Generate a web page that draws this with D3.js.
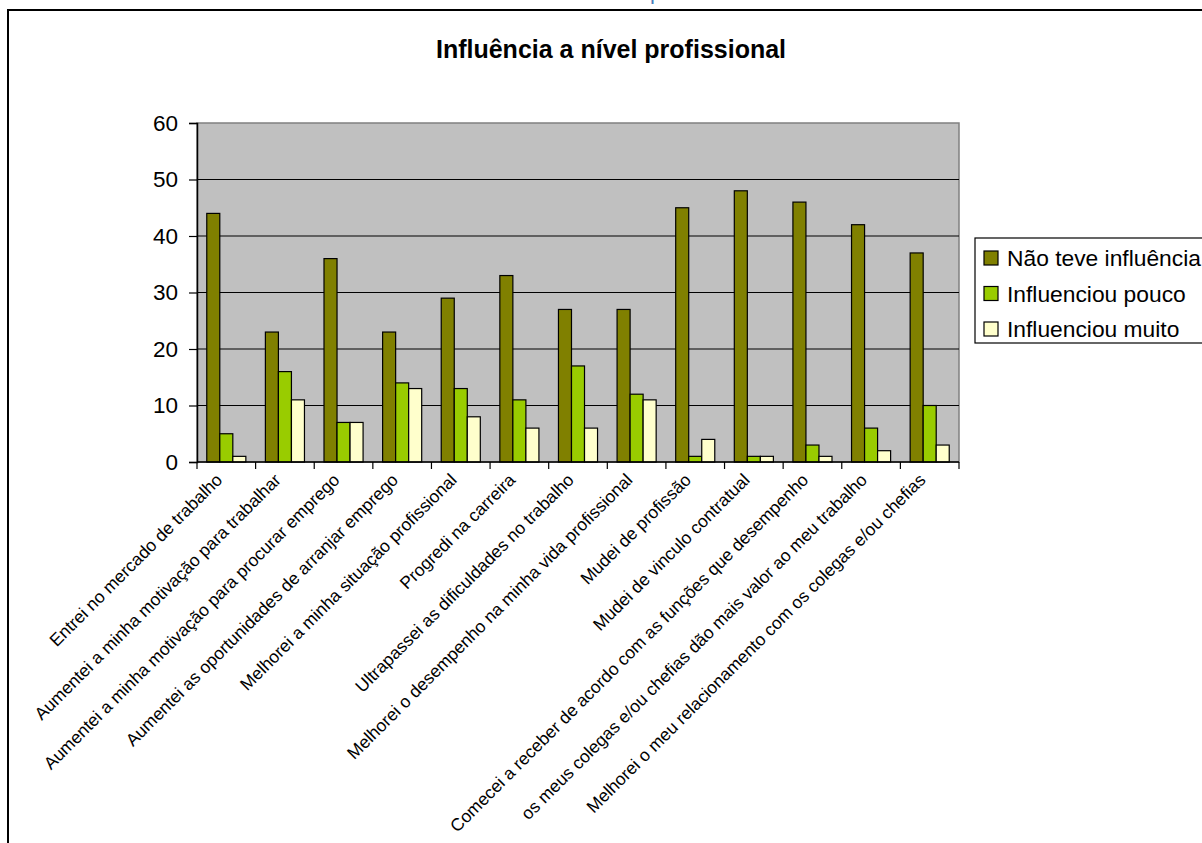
<!DOCTYPE html>
<html>
<head>
<meta charset="utf-8">
<script src="https://cdn.jsdelivr.net/npm/d3@7"></script>
<style>
  html, body { margin: 0; padding: 0; background: #fff; overflow: hidden; }
  text { font-family: Arial, 'Liberation Sans', sans-serif; }
</style>
</head>
<body>
<svg width="1202" height="843"></svg>
<script>
// data
const categories = [
    'Entrei no mercado de trabalho',
    'Aumentei a minha motivação para trabalhar',
    'Aumentei a minha motivação para procurar emprego',
    'Aumentei as oportunidades de arranjar emprego',
    'Melhorei a minha situação profissional',
    'Progredi na carreira',
    'Ultrapassei as dificuldades no trabalho',
    'Melhorei o desempenho na minha vida profissional',
    'Mudei de profissão',
    'Mudei de vinculo contratual',
    'Comecei a receber de acordo com as funções que desempenho',
    'os meus colegas e/ou chefias dão mais valor ao meu trabalho',
    'Melhorei o meu relacionamento com os colegas e/ou chefias'
];
const series = ['Não teve influência', 'Influenciou pouco', 'Influenciou muito'];
const naoTeve     = [44, 23, 36, 23, 29, 33, 27, 27, 45, 48, 46, 42, 37];
const poucoVals   = [5, 16, 7, 14, 13, 11, 17, 12, 1, 1, 3, 6, 10];
const muitoVals   = [1, 11, 7, 13, 8, 6, 6, 11, 4, 1, 1, 2, 3];
const yTicks = [0, 10, 20, 30, 40, 50, 60];
const colors = ['#808000', '#99cc00', '#ffffcc'];

const values = [naoTeve, poucoVals, muitoVals];

// dimensions
const PLOT_LEFT = 197;
const PLOT_RIGHT = 959;
const PLOT_TOP = 123;
const PLOT_BOTTOM = 462;

const svg = d3.select('svg');

// outer frame
svg.append('rect')
    .attr('x', 8).attr('y', 10)
    .attr('width', 1300).attr('height', 1000)
    .attr('fill', 'none')
    .attr('stroke', '#000')
    .attr('stroke-width', 2);

// stray glyph from the page above
svg.append('text')
    .attr('x', 650).attr('y', -1)
    .attr('font-family', 'DejaVu Serif, serif')
    .attr('font-size', 22)
    .attr('fill', '#4a7ebb')
    .text('p');

// title
svg.append('text')
    .attr('x', 611).attr('y', 58)
    .attr('text-anchor', 'middle')
    .attr('font-size', 25)
    .attr('font-weight', 'bold')
    .text('Influência a nível profissional');

// scales
const x0 = d3.scaleBand()
    .domain(categories)
    .range([PLOT_LEFT, PLOT_RIGHT])
    .padding(0);

const x1 = d3.scaleBand()
    .domain(d3.range(series.length))
    .range([0, x0.bandwidth()])
    .paddingInner(0)
    .paddingOuter(0.75);

const y = d3.scaleLinear()
    .domain([0, 60])
    .range([PLOT_BOTTOM, PLOT_TOP]);

// plot background
svg.append('rect')
    .attr('x', PLOT_LEFT).attr('y', PLOT_TOP)
    .attr('width', PLOT_RIGHT - PLOT_LEFT)
    .attr('height', PLOT_BOTTOM - PLOT_TOP)
    .attr('fill', '#c0c0c0')
    .attr('stroke', '#808080')
    .attr('stroke-width', 1.5);

// grid lines
svg.selectAll('.grid')
    .data(yTicks.filter(d => d > 0 && d < 60)).enter().append('line')
    .attr('class', 'grid')
    .attr('x1', PLOT_LEFT).attr('x2', PLOT_RIGHT)
    .attr('y1', d => y(d)).attr('y2', d => y(d))
    .attr('stroke', '#000')
    .attr('stroke-width', 1.2);

// bars
const groups = svg.selectAll('.group')
    .data(categories).enter().append('g')
    .attr('class', 'group')
    .attr('transform', d => `translate(${x0(d)},0)`);

groups.selectAll('rect')
    .data((d, i) => values.map((s, k) => ({ k: k, v: s[i] })))
    .enter().append('rect')
    .attr('x', d => x1(d.k))
    .attr('y', d => y(d.v))
    .attr('width', x1.bandwidth())
    .attr('height', d => y(0) - y(d.v))
    .attr('fill', d => colors[d.k])
    .attr('stroke', '#000')
    .attr('stroke-width', 1.2);

// y axis
const yAxis = svg.append('g')
    .attr('transform', `translate(${PLOT_LEFT},0)`)
    .call(d3.axisLeft(y).tickValues(yTicks).tickSize(8).tickPadding(11));
yAxis.select('.domain').attr('stroke', '#000').attr('stroke-width', 1.5);
yAxis.selectAll('.tick line').attr('stroke', '#000').attr('stroke-width', 1.2);
yAxis.selectAll('.tick text')
    .attr('font-size', 22.5)
    .attr('font-family', 'Arial, Liberation Sans, sans-serif')
    .attr('fill', '#000');

// x axis with ticks between groups
const xAxis = svg.append('g');
xAxis.append('line')
    .attr('x1', PLOT_LEFT).attr('x2', PLOT_RIGHT)
    .attr('y1', PLOT_BOTTOM).attr('y2', PLOT_BOTTOM)
    .attr('stroke', '#000').attr('stroke-width', 1.5);
const tickPos = categories.map(d => x0(d)).concat([x0(categories[categories.length - 1]) + x0.bandwidth()]);
xAxis.selectAll('.xtick')
    .data(tickPos).enter().append('line')
    .attr('class', 'xtick')
    .attr('x1', d => d).attr('x2', d => d)
    .attr('y1', PLOT_BOTTOM).attr('y2', PLOT_BOTTOM + 7)
    .attr('stroke', '#000').attr('stroke-width', 1.2);

xAxis.selectAll('.xlabel')
    .data(categories).enter().append('text')
    .attr('class', 'xlabel')
    .attr('transform', d => `translate(${x0(d) + x0.bandwidth() / 2 - 3},${PLOT_BOTTOM + 19}) rotate(-45)`)
    .attr('text-anchor', 'end')
    .attr('font-size', 17.5)
    .text(d => d);

// legend
const legend = svg.append('g')
    .attr('transform', 'translate(975,238)');

legend.append('rect')
    .attr('width', 260).attr('height', 105)
    .attr('fill', '#fff')
    .attr('stroke', '#000')
    .attr('stroke-width', 1.2);

const items = legend.selectAll('.legend-item')
    .data(series).enter().append('g')
    .attr('class', 'legend-item')
    .attr('transform', (d, i) => `translate(0,${20 + i * 35.5})`);

items.append('rect')
    .attr('x', 9).attr('y', -7)
    .attr('width', 14).attr('height', 14)
    .attr('fill', (d, i) => colors[i])
    .attr('stroke', '#000')
    .attr('stroke-width', 1.2);

items.append('text')
    .attr('x', 32).attr('y', 0)
    .attr('dy', '0.36em')
    .attr('font-size', 22.8)
    .text(d => d);
</script>
</body>
</html>
